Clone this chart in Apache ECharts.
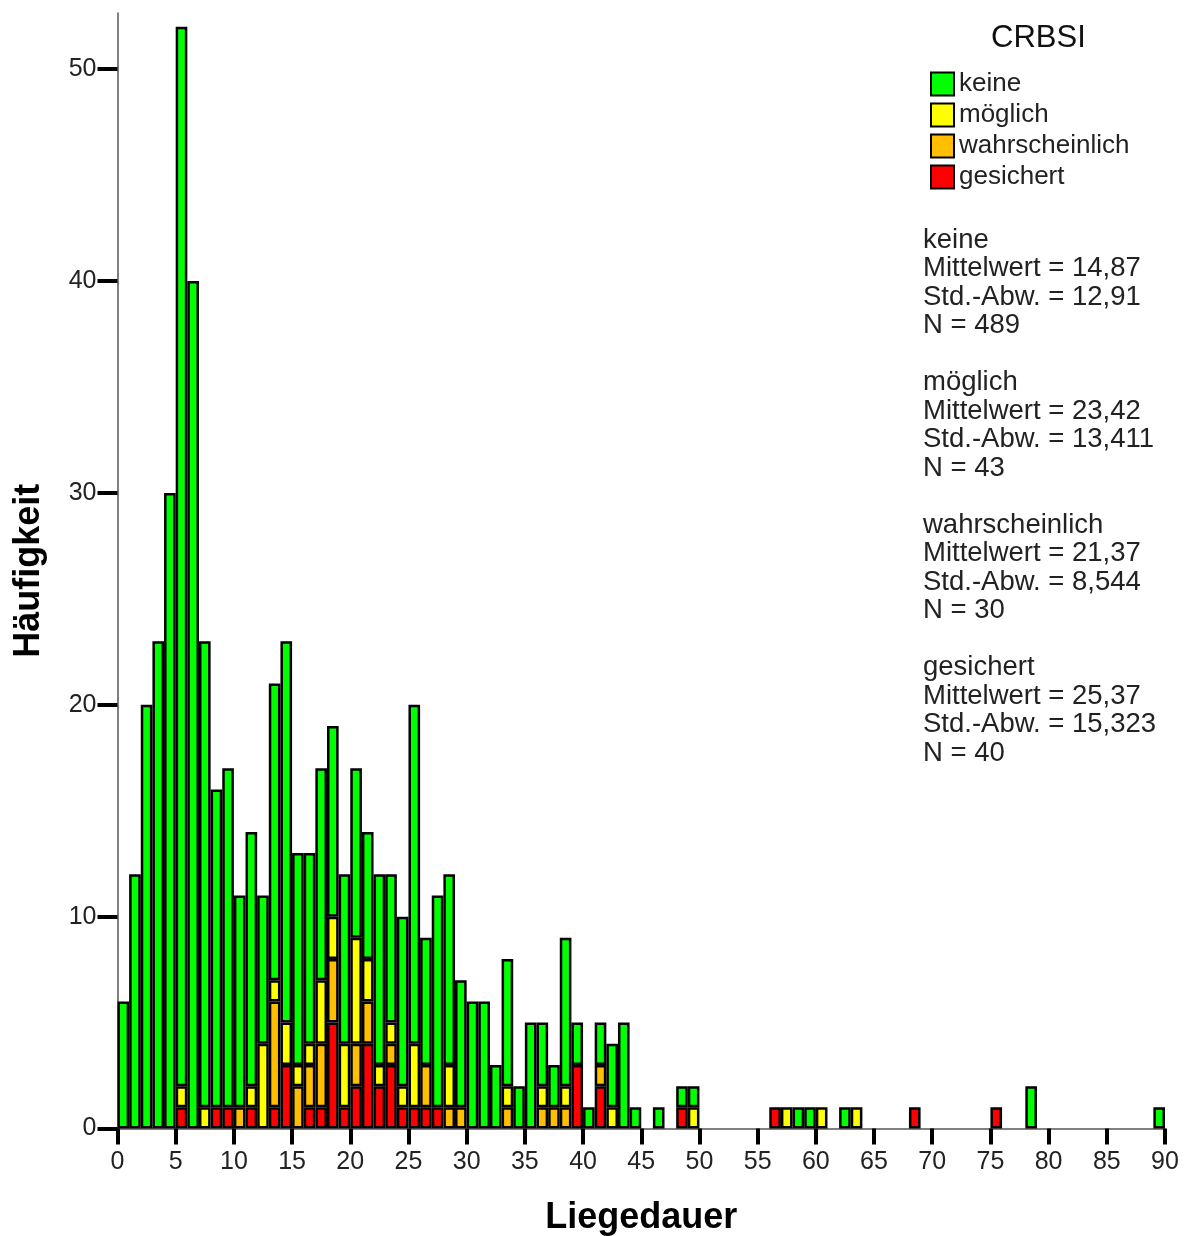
<!DOCTYPE html>
<html>
<head>
<meta charset="utf-8">
<script src="https://cdn.jsdelivr.net/npm/echarts@6/dist/echarts.min.js"></script>
<style>
html,body{margin:0;padding:0;background:#fff;}
#chart{width:1184px;height:1236px;}
</style>
</head>
<body>
<div id="chart"></div>
<script>
// Bin starts (Liegedauer, 1-day bins)
const bins = Array.from({length: 90}, (_, i) => String(i));

const keine = [
  6,12,20,23,30,50,40,22,15,16,
  10,12,7,14,18,10,9,10,9,8,
  8,6,9,7,8,16,6,10,9,6,
  6,6,3,6,2,5,3,2,7,2,
  1,2,3,5,1,0,1,0,1,1,
  0,0,0,0,0,0,0,0,1,1,
  0,0,1,0,0,0,0,0,0,0,
  0,0,0,0,0,0,0,0,2,0,
  0,0,0,0,0,0,0,0,0,1
];
const moeglich = [
  0,0,0,0,0,1,0,1,0,0,
  0,1,4,1,2,1,1,3,2,3,
  5,2,1,1,1,3,0,0,2,0,
  0,0,0,1,0,0,1,0,1,0,
  0,0,1,0,0,0,0,0,0,1,
  0,0,0,0,0,0,0,1,0,0,
  1,0,0,1,0,0,0,0,0,0,
  0,0,0,0,0,0,0,0,0,0,
  0,0,0,0,0,0,0,0,0,0
];
const wahrscheinlich = [
  0,0,0,0,0,0,0,0,0,0,
  1,0,0,5,0,2,2,3,3,0,
  2,2,0,1,0,0,2,0,1,1,
  0,0,0,1,0,0,1,1,1,0,
  0,1,0,0,0,0,0,0,0,0,
  0,0,0,0,0,0,0,0,0,0,
  0,0,0,0,0,0,0,0,0,0,
  0,0,0,0,0,0,0,0,0,0,
  0,0,0,0,0,0,0,0,0,0
];
const gesichert = [
  0,0,0,0,0,1,0,0,1,1,
  0,1,0,1,3,0,1,1,5,1,
  2,4,2,3,1,1,1,1,0,0,
  0,0,0,0,0,0,0,0,0,3,
  0,2,0,0,0,0,0,0,1,0,
  0,0,0,0,0,0,1,0,0,0,
  0,0,0,0,0,0,0,0,1,0,
  0,0,0,0,0,1,0,0,0,0,
  0,0,0,0,0,0,0,0,0,0
];

const xTicks = [0,5,10,15,20,25,30,35,40,45,50,55,60,65,70,75,80,85,90];
const yTicks = [0,10,20,30,40,50];

const groupNames = ['keine','möglich','wahrscheinlich','gesichert'];
const groupMeans = ['14,87','23,42','21,37','25,37'];
const groupSDs = ['12,91','13,411','8,544','15,323'];
const groupNs = ['489','43','30','40'];

const colors = {
  'keine': '#00FF00',
  'möglich': '#FFFF00',
  'wahrscheinlich': '#FFBF00',
  'gesichert': '#FF0000'
};

const FONT = 'Liberation Sans, Arial, sans-serif';

function mk(name, arr) {
  return {
    name: name,
    type: 'bar',
    stack: 'all',
    xAxisIndex: 0,
    yAxisIndex: 0,
    barCategoryGap: '0%',
    data: arr.map(v => v === 0 ? '-' : v),
    itemStyle: { color: colors[name], borderColor: '#000', borderWidth: 2.5 },
    emphasis: { disabled: true },
    silent: true
  };
}

const statLines = [];
groupNames.forEach((g, i) => {
  if (i > 0) statLines.push('');
  statLines.push(g);
  statLines.push('Mittelwert = ' + groupMeans[i]);
  statLines.push('Std.-Abw. = ' + groupSDs[i]);
  statLines.push('N = ' + groupNs[i]);
});

const chart = echarts.init(document.getElementById('chart'), null, {renderer: 'canvas'});
chart.setOption({
  animation: false,
  backgroundColor: '#fff',
  textStyle: { fontFamily: FONT },
  title: {
    text: 'CRBSI',
    left: 986,
    top: 18,
    textStyle: { fontFamily: FONT, fontSize: 31, fontWeight: 'normal', color: '#111' }
  },
  legend: {
    data: groupNames,
    orient: 'vertical',
    left: 925,
    top: 66,
    itemWidth: 23,
    itemHeight: 23,
    itemGap: 5,
    icon: 'rect',
    selectedMode: false,
    textStyle: { fontFamily: FONT, fontSize: 26, color: '#222', lineHeight: 26 }
  },
  grid: { left: 117.5, right: 19, top: 13, bottom: 107.5, containLabel: false, outerBoundsMode: 'none' },
  xAxis: [
    {
      type: 'category',
      data: bins,
      position: 'top',
      show: false,
      boundaryGap: true
    },
    {
      type: 'value',
      position: 'bottom',
      min: 0,
      max: 90,
      interval: 5,
      axisLine: { show: true, onZero: false, lineStyle: { color: '#555', width: 1.5 } },
      axisTick: { show: true, length: 16, lineStyle: { color: '#000', width: 4 }, customValues: xTicks },
      axisLabel: { fontFamily: FONT, fontSize: 25, color: '#222', margin: 21, customValues: xTicks },
      splitLine: { show: false },
      name: 'Liegedauer',
      nameLocation: 'middle',
      nameGap: 72,
      nameTextStyle: { fontFamily: FONT, fontSize: 36, fontWeight: 'bold', color: '#000' }
    }
  ],
  yAxis: {
    type: 'value',
    min: 0,
    max: 52.65,
    interval: 10,
    axisLine: { show: true, lineStyle: { color: '#555', width: 1.5 } },
    axisTick: { show: true, length: 20, lineStyle: { color: '#000', width: 4 }, customValues: yTicks },
    axisLabel: { fontFamily: FONT, fontSize: 25, color: '#222', margin: 21, customValues: yTicks },
    splitLine: { show: false },
    name: 'Häufigkeit',
    nameLocation: 'middle',
    nameGap: 70,
    nameRotate: 90,
    nameTextStyle: { fontFamily: FONT, fontSize: 36, fontWeight: 'bold', color: '#000' }
  },
  graphic: [
    {
      type: 'text',
      left: 923,
      top: 226,
      silent: true,
      style: {
        text: statLines.join('\n'),
        font: '27.5px ' + FONT,
        lineHeight: 28.5,
        fill: '#222'
      }
    }
  ],
  series: [
    mk('gesichert', gesichert),
    mk('wahrscheinlich', wahrscheinlich),
    mk('möglich', moeglich),
    mk('keine', keine)
  ]
});
</script>
</body>
</html>
